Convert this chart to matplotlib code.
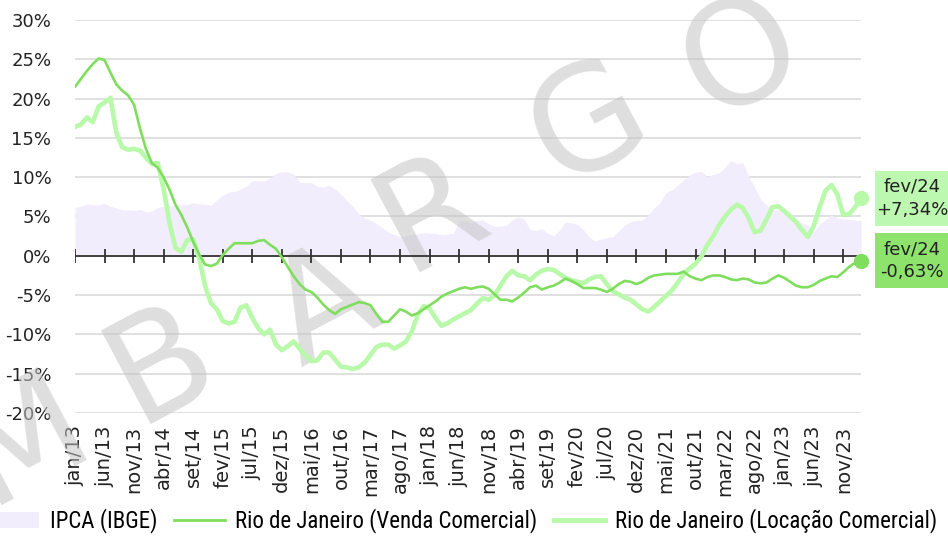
import numpy as np
import matplotlib
matplotlib.use("Agg")
import matplotlib.pyplot as plt
import matplotlib.transforms as mtransforms
from matplotlib import font_manager
from matplotlib.patches import Rectangle, Patch
from matplotlib.lines import Line2D

plt.rcParams["font.family"] = ["DejaVu Sans"]

# monthly series, jan/13 .. fev/24 (% in 12 months)
ipca = [6.15, 6.31, 6.59, 6.49, 6.50, 6.70, 6.27, 6.09, 5.86, 5.84, 5.77, 5.91,
        5.59, 5.68, 6.15, 6.28, 6.37, 6.52, 6.50, 6.51, 6.75, 6.59, 6.56, 6.41,
        7.14, 7.70, 8.13, 8.17, 8.47, 8.89, 9.56, 9.53, 9.49, 9.93, 10.48, 10.67,
        10.71, 10.36, 9.39, 9.28, 9.32, 8.84, 8.74, 8.97, 8.48, 7.87, 6.99, 6.29,
        5.35, 4.76, 4.57, 4.08, 3.60, 3.00, 2.71, 2.46, 2.54, 2.70, 2.80, 2.95,
        2.86, 2.84, 2.68, 2.76, 2.86, 4.39, 4.48, 4.19, 4.53, 4.56, 4.05, 3.75,
        3.78, 3.89, 4.58, 4.94, 4.66, 3.37, 3.22, 3.43, 2.89, 2.54, 3.27, 4.31,
        4.19, 4.01, 3.30, 2.40, 1.88, 2.13, 2.31, 2.44, 3.14, 3.92, 4.31, 4.52,
        4.56, 5.20, 6.10, 6.76, 8.06, 8.35, 8.99, 9.68, 10.25, 10.67, 10.74, 10.06,
        10.38, 10.54, 11.30, 12.13, 11.73, 11.89, 10.07, 8.73, 7.17, 6.47, 5.90, 5.79,
        5.77, 5.60, 4.65, 4.18, 3.94, 3.16, 3.99, 4.61, 5.19, 4.82, 4.68, 4.62,
        4.51, 4.50]

venda = [21.5, 22.5, 23.5, 24.4, 25.1, 24.9, 23.3, 21.8, 21.0, 20.4, 19.2, 16.2,
         13.6, 11.8, 11.2, 10.0, 8.4, 6.5, 5.2, 3.6, 1.8, 0.2, -1.1, -1.3,
         -1.0, 0.1, 0.9, 1.6, 1.6, 1.6, 1.6, 1.9, 2.0, 1.4, 0.9, -0.2,
         -1.4, -2.6, -3.6, -4.3, -4.6, -5.3, -6.2, -6.9, -7.4, -6.8, -6.5, -6.2,
         -5.9, -6.0, -6.3, -7.4, -8.4, -8.4, -7.6, -6.8, -7.1, -7.6, -7.3, -6.8,
         -6.3, -5.8, -5.2, -4.8, -4.5, -4.2, -4.0, -4.2, -4.0, -3.9, -4.2, -4.9,
         -5.6, -5.6, -5.8, -5.3, -4.7, -4.0, -3.8, -4.3, -4.0, -3.8, -3.4, -2.9,
         -3.2, -3.6, -4.1, -4.1, -4.1, -4.3, -4.6, -4.2, -3.6, -3.2, -3.3, -3.6,
         -3.3, -2.8, -2.5, -2.4, -2.3, -2.3, -2.3, -2.0, -2.6, -2.9, -3.1, -2.7,
         -2.5, -2.5, -2.7, -3.0, -3.1, -2.9, -3.0, -3.4, -3.5, -3.4, -2.9, -2.5,
         -2.8, -3.3, -3.8, -4.0, -4.0, -3.7, -3.2, -2.9, -2.6, -2.7, -2.1, -1.4,
         -0.9, -0.63]

locacao = [16.4, 16.7, 17.6, 17.0, 19.0, 19.5, 20.1, 15.6, 13.8, 13.5, 13.6, 13.4,
           12.5, 11.7, 11.8, 8.5, 4.2, 1.0, 0.5, 2.0, 2.1, -0.3, -3.8, -6.0,
           -6.8, -8.3, -8.6, -8.4, -6.6, -6.3, -7.9, -9.2, -10.0, -9.4, -11.3, -12.0,
           -11.5, -10.9, -11.8, -12.7, -13.4, -13.3, -12.3, -12.3, -13.2, -14.1, -14.2, -14.4,
           -14.2, -13.6, -12.6, -11.6, -11.3, -11.3, -11.8, -11.4, -10.9, -9.6, -7.5, -6.4,
           -6.7, -7.9, -8.9, -8.6, -8.1, -7.7, -7.3, -6.9, -6.1, -5.4, -5.6, -5.0,
           -3.8, -2.6, -1.9, -2.5, -2.6, -3.1, -2.4, -1.9, -1.7, -1.8, -2.3, -2.8,
           -3.1, -3.3, -3.5, -3.0, -2.7, -2.6, -3.6, -4.5, -4.9, -5.3, -5.6, -6.2,
           -6.8, -7.1, -6.5, -5.8, -5.1, -4.4, -3.4, -2.3, -1.6, -1.0, -0.1, 1.4,
           2.5, 3.9, 5.0, 5.9, 6.5, 6.1, 4.8, 3.0, 3.2, 4.6, 6.2, 6.3,
           5.7, 5.0, 4.3, 3.3, 2.4, 3.8, 6.2, 8.3, 9.0, 7.8, 5.2, 5.3,
           6.2, 7.34]

tick_labels = ["jan/13", "jun/13", "nov/13", "abr/14", "set/14", "fev/15", "jul/15",
               "dez/15", "mai/16", "out/16", "mar/17", "ago/17", "jan/18", "jun/18",
               "nov/18", "abr/19", "set/19", "fev/20", "jul/20", "dez/20", "mai/21",
               "out/21", "mar/22", "ago/22", "jan/23", "jun/23", "nov/23"]
y_ticks = [-20, -15, -10, -5, 0, 5, 10, 15, 20, 25, 30]

series_names = ["IPCA (IBGE)", "Rio de Janeiro (Venda Comercial)",
                "Rio de Janeiro (Locação Comercial)"]

c_ipca = "#f2edfc"
c_venda = "#80de5f"
c_loc = "#b8f9aa"
c_venda_box = "#8ee36c"
c_loc_box = "#bdf8b0"

# narrow font for the legend, if there is one
available = {f.name for f in font_manager.fontManager.ttflist}
leg_font = "DejaVu Sans"
for cand in ["Liberation Sans Narrow", "Roboto Condensed", "Roboto"]:
    if cand in available:
        leg_font = cand
        break

W, H = 948, 544
fig = plt.figure(figsize=(W / 100, H / 100), dpi=100)
ax = fig.add_axes([75 / W, 1 - 413 / H, (861 - 75) / W, (413 - 20) / H])
ax.set_facecolor("none")

x = np.arange(len(ipca))
ax.fill_between(x, 0, ipca, color=c_ipca, lw=0, zorder=1)
ax.plot(x, locacao, color=c_loc, lw=3.3, zorder=3, solid_capstyle="round")
ax.plot(x, venda, color=c_venda, lw=1.9, zorder=4, solid_capstyle="round")
ax.plot(x[-1], locacao[-1], "o", color=c_loc, ms=10, zorder=5, clip_on=False)
ax.plot(x[-1], venda[-1], "o", color=c_venda, ms=10, zorder=5, clip_on=False)

ax.set_xlim(0, len(ipca) - 1)
ax.set_ylim(-20, 30)
ax.set_yticks(y_ticks)
ax.set_yticklabels([f"{v}%" for v in y_ticks], fontsize=13, color="#222222")
ax.tick_params(axis="y", length=0, pad=17)
ax.grid(axis="y", color="#dadada", lw=1.2)
ax.set_axisbelow(True)
for s in ax.spines.values():
    s.set_visible(False)

# zero line with month ticks
tick_pos = np.arange(0, len(ipca), 5)
ax.axhline(0, color="#333333", lw=1.3, zorder=2.5)
ax.plot(tick_pos, np.zeros(len(tick_pos)), ls="none", marker="|", ms=9.5, mew=1.3,
        color="#333333", zorder=2.5)
ax.set_xticks(tick_pos)
ax.set_xticklabels(tick_labels, rotation=90, fontsize=14, color="#222222")
ax.tick_params(axis="x", length=0, pad=9)

# watermark
wm = [("M", 24, 440), ("B", 162, 365), ("A", 326, 308), ("R", 432, 214),
      ("G", 590, 126), ("O", 742, 58)]
for ch, px, py in wm:
    ax.text(px / W, 1 - py / H, ch, transform=fig.transFigure, fontsize=104,
            rotation=28, rotation_mode="anchor", ha="center", va="center",
            color="#c4c4c4", alpha=0.55, zorder=2, clip_on=False)

# last value boxes
trans = mtransforms.blended_transform_factory(fig.transFigure, ax.transData)
box_h = 55 / 7.86
for val, fc in [(locacao[-1], c_loc_box), (venda[-1], c_venda_box)]:
    ax.add_patch(Rectangle((875 / W, val - box_h / 2), 74 / W, box_h, transform=trans,
                           facecolor=fc, edgecolor="none", clip_on=False, zorder=5))
    txt = f"fev/24\n{val:+.2f}%".replace(".", ",")
    ax.text(912 / W, val, txt, transform=trans, ha="center", va="center",
            fontsize=13, linespacing=1.35, color="#222222", zorder=6, clip_on=False)

handles = [Patch(facecolor=c_ipca, edgecolor="none"),
           Line2D([], [], color=c_venda, lw=2),
           Line2D([], [], color=c_loc, lw=3.5)]
fig.legend(handles, series_names, loc="lower center", bbox_to_anchor=(463 / W, -0.018),
           ncol=3, frameon=False, prop={"family": leg_font, "size": 16.5},
           handlelength=2.2, handletextpad=0.45, columnspacing=0.75)

fig.savefig("out.png", dpi=100)
